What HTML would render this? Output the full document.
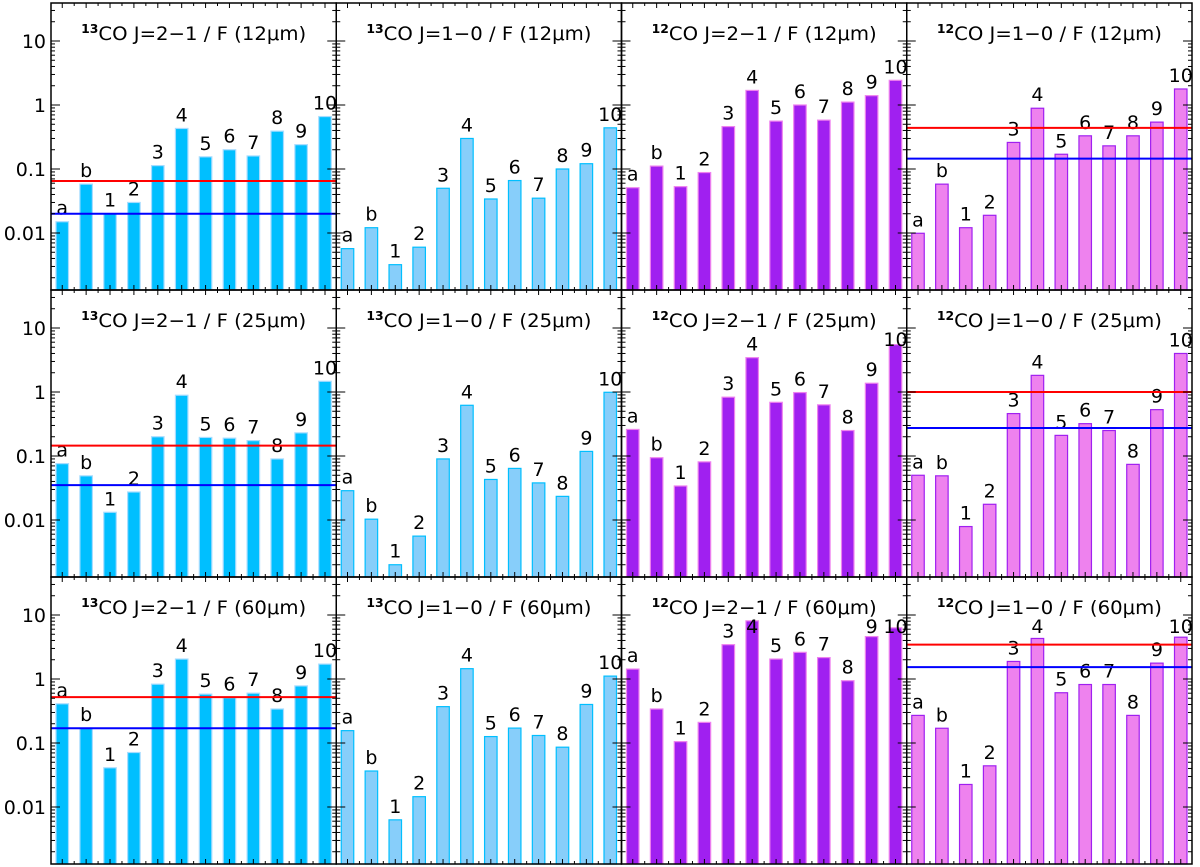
<!DOCTYPE html>
<html><head><meta charset="utf-8"><style>
html,body{margin:0;padding:0;background:#fff;width:1200px;height:867px;overflow:hidden}
svg{display:block}
text{font-family:"DejaVu Sans","Liberation Sans",sans-serif;fill:#000}
</style></head><body>
<svg id="chart" width="1200" height="867"></svg>
<script>
const categories = ["a","b","1","2","3","4","5","6","7","8","9","10"];
const rowBands = ["12","25","60"];
const colTitles = ["13CO J=2\u22121","13CO J=1\u22120","12CO J=2\u22121","12CO J=1\u22120"];
const r1c1 = [0.015,0.058,0.020,0.030,0.113,0.43,0.155,0.20,0.16,0.39,0.24,0.66];
const r1c2 = [0.0057,0.0121,0.0032,0.006,0.050,0.30,0.034,0.066,0.035,0.10,0.121,0.44];
const r1c3 = [0.051,0.111,0.053,0.088,0.46,1.69,0.56,1.0,0.58,1.11,1.40,2.43];
const r1c4 = [0.0099,0.058,0.0121,0.0189,0.26,0.89,0.17,0.33,0.23,0.33,0.54,1.78];
const r2c1 = [0.076,0.049,0.0132,0.0274,0.20,0.89,0.195,0.19,0.174,0.090,0.23,1.47];
const r2c2 = [0.0287,0.0103,0.0020,0.0056,0.090,0.62,0.043,0.064,0.038,0.0234,0.118,0.99];
const r2c3 = [0.26,0.094,0.034,0.081,0.83,3.44,0.69,0.98,0.63,0.25,1.37,5.5];
const r2c4 = [0.050,0.049,0.0079,0.0176,0.46,1.82,0.21,0.32,0.25,0.074,0.53,4.0];
const r3c1 = [0.41,0.171,0.041,0.071,0.83,2.05,0.58,0.51,0.60,0.34,0.78,1.71];
const r3c2 = [0.156,0.0365,0.0063,0.0145,0.37,1.45,0.126,0.171,0.131,0.086,0.40,1.11];
const r3c3 = [1.43,0.34,0.105,0.21,3.44,8.1,2.05,2.61,2.16,0.94,4.6,6.3];
const r3c4 = [0.27,0.17,0.0225,0.044,1.88,4.3,0.61,0.82,0.82,0.27,1.77,4.5];
const redLines = [[0.065,null,null,0.44],[0.145,null,null,1.0],[0.52,null,null,3.44]];
const blueLines = [[0.020,null,null,0.145],[0.035,null,null,0.274],[0.17,null,null,1.53]];
const yTickLabels = ["10","1","0.1","0.01"];
const yTickValues = [10,1,0.1,0.01];

const grid = [[r1c1,r1c2,r1c3,r1c4],[r2c1,r2c2,r2c3,r2c4],[r3c1,r3c2,r3c3,r3c4]];
const fills = ["#00bfff","#87cefa","#a020f0","#ee82ee"];
const strokes = ["#a6dcff","#00bfff","#ee82ee","#a020f0"];
const NS = "http://www.w3.org/2000/svg";
const svg = document.getElementById("chart");
const X0 = 51, X1 = 1192, PW = (X1 - X0) / 4;
const rowTops = [3, 290, 577], PH = 287, DEC = 64;
function yScale(v, r){ return rowTops[r] + 38 + (1 - Math.log10(v)) * DEC; }
function mk(tag, attrs, parent){
  const e = document.createElementNS(NS, tag);
  for (const k in attrs) e.setAttribute(k, attrs[k]);
  (parent || svg).appendChild(e);
  return e;
}
const step = (PW - 10 - 12.5) / 11;
function xBar(i, c){ return X0 + c * PW + 5 + i * step; }

for (let r = 0; r < 3; r++) {
  const top = rowTops[r], bot = top + PH;
  for (let c = 0; c < 4; c++) {
    const left = X0 + c * PW, right = left + PW;
    const g = mk("g", {});
    
    
    const vals = grid[r][c];
    vals.forEach((v, i) => {
      const x = xBar(i, c), y = Math.max(top, yScale(v, r));
      const b = mk("rect", {x: x, y: y, width: 12.5, height: bot - y, fill: fills[c], stroke: strokes[c], "stroke-width": 1.2}, g);
      
      
      const t = mk("text", {x: x + 6.25, y: Math.max(top + 56, y - 7), "text-anchor": "middle", "font-size": 19}, g);
      t.textContent = categories[i];
      
      
    });
    if (redLines[r][c] != null) {
      const l = mk("line", {x1: left, x2: right, y1: yScale(redLines[r][c], r), y2: yScale(redLines[r][c], r), stroke: "#ff0000", "stroke-width": 2}, g);
      
      
    }
    if (blueLines[r][c] != null) {
      const l = mk("line", {x1: left, x2: right, y1: yScale(blueLines[r][c], r), y2: yScale(blueLines[r][c], r), stroke: "#0000ff", "stroke-width": 2}, g);
      
      
    }
    for (let e = -3; e <= 1; e++) {
      for (let m = 1; m <= 9; m++) {
        const v = m * Math.pow(10, e);
        const y = yScale(v, r);
        if (y < top || y > bot) continue;
        const len = m === 1 ? 9 : 4;
        mk("line", {x1: left, x2: left + len, y1: y, y2: y, stroke: "#000", "stroke-width": 1}, g);
        mk("line", {x1: right, x2: right - len, y1: y, y2: y, stroke: "#000", "stroke-width": 1}, g);
      }
    }
    for (let k = 0; k <= 24; k++) {
      const x = left + 5 + 6.25 + (k / 2) * step;
      if (x > right - 2) continue;
      const len = k % 2 === 0 ? 5 : 3;
      mk("line", {x1: x, x2: x, y1: bot, y2: bot - len, stroke: "#000", "stroke-width": 1}, g);
      mk("line", {x1: x, x2: x, y1: top, y2: top + len, stroke: "#000", "stroke-width": 1}, g);
    }
    const f = mk("rect", {x: left, y: top, width: PW, height: PH, fill: "none", stroke: "#000", "stroke-width": 1.5}, g);
    
    
    const t = mk("text", {x: left + PW / 2, y: top + 37, "text-anchor": "middle", "font-size": 19, textLength: 225, lengthAdjust: "spacingAndGlyphs"}, g);
    
    
    const iso = colTitles[c].slice(0, 2), rest = colTitles[c].slice(2);
    const s1 = mk("tspan", {"font-size": 12, dy: -7, "font-weight": "bold"}, t); s1.textContent = iso;
    const s2 = mk("tspan", {dy: 7}, t); s2.textContent = rest + " / F (" + rowBands[r] + "\u03bcm)";
  }
  yTickLabels.forEach((lab, i) => {
    const t = mk("text", {x: 46, y: yScale(yTickValues[i], r) + 7, "text-anchor": "end", "font-size": 19});
    t.textContent = lab;
    
    
  });
}
</script>
</body></html>
